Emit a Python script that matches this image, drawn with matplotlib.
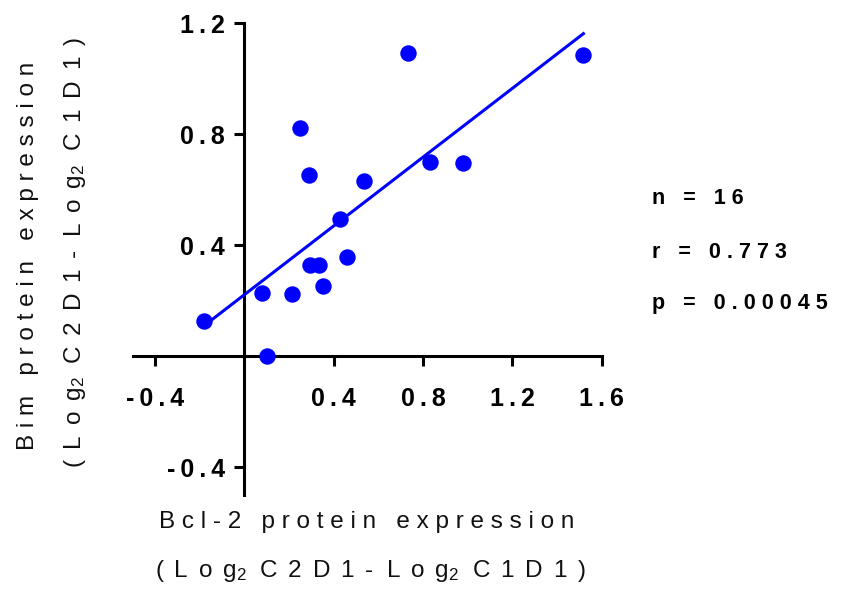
import numpy as np
import matplotlib
matplotlib.use("Agg")
import matplotlib.pyplot as plt

plt.rcParams['font.family'] = ['Liberation Sans', 'DejaVu Sans']
plt.rcParams['mathtext.fontset'] = 'custom'
plt.rcParams['mathtext.rm'] = 'Liberation Sans'
plt.rcParams['mathtext.it'] = 'Liberation Sans'

# data
bcl2 = [-0.182, 0.103, 0.079, 0.213, 0.248, 0.290, 0.296, 0.333,
        0.352, 0.427, 0.461, 0.536, 0.732, 0.833, 0.978, 1.519]
bim = [0.126, 0.000, 0.228, 0.226, 0.822, 0.652, 0.330, 0.330,
       0.253, 0.493, 0.356, 0.632, 1.091, 0.701, 0.695, 1.084]
xticks = [-0.4, 0.4, 0.8, 1.2, 1.6]
yticks = [-0.4, 0.4, 0.8, 1.2]
stats = ['n = 16', 'r = 0.773', 'p = 0.00045']

THIN = '\u2009'
HAIR = '\u200a'


def spaced(s, sep=' '):
    return sep.join(s)


fig = plt.figure(figsize=(8.46, 5.89), dpi=100)
ax = fig.add_axes([0.157, 0.1596, 0.554, 0.801])

ax.scatter(bcl2, bim, s=140, color='#0000FF', zorder=5, clip_on=False, linewidths=0)
slope, icpt = np.polyfit(bcl2, bim, 1)
xl = np.array([min(bcl2), max(bcl2)])
ax.plot(xl, slope * xl + icpt, color='#0000FF', lw=2.2, zorder=4, clip_on=False)

ax.set_xlim(-0.5, 1.6)
ax.set_ylim(-0.5, 1.2)
for side in ['top', 'right']:
    ax.spines[side].set_visible(False)
ax.spines['left'].set_position(('data', 0))
ax.spines['bottom'].set_position(('data', 0))
for side in ['left', 'bottom']:
    ax.spines[side].set_linewidth(2.2)
ax.spines['left'].set_bounds(-0.5, 1.2)
ax.spines['bottom'].set_bounds(-0.5, 1.6)

ax.set_xticks(xticks)
ax.set_xticklabels([spaced(f'{t:.1f}', THIN) for t in xticks], fontweight='bold', fontsize=18)
ax.set_yticks(yticks)
ax.set_yticklabels([spaced(f'{t:.1f}', THIN) for t in yticks], fontweight='bold', fontsize=18)
ax.tick_params(axis='x', length=7, width=2.2, pad=15)
ax.tick_params(axis='y', length=7, width=2.2, pad=7)

# axis labels
sep2 = ' ' + HAIR + HAIR
lab2 = (sep2.join('(Log') + '$_2$  ' + sep2.join('C2D1-') + '  '
        + sep2.join('Log') + '$_2$  ' + sep2.join('C1D1)'))
fig.text(367 / 846, 1 - 522 / 589, spaced('Bcl-2 protein expression'),
         ha='center', va='center', fontsize=17.5, color='#111111')
fig.text(370 / 846, 1 - 571 / 589, lab2,
         ha='center', va='center', fontsize=17.5, color='#111111')
fig.text(28 / 846, 1 - 256 / 589, spaced('Bim protein expression'),
         ha='center', va='center', fontsize=17.5, color='#111111', rotation=90)
fig.text(75 / 846, 1 - 253 / 589, lab2,
         ha='center', va='center', fontsize=17.5, color='#111111', rotation=90)

ys = [199, 253, 303]
for s, yy in zip(stats, ys):
    fig.text(652 / 846, 1 - yy / 589, spaced(s),
             ha='left', va='center', fontsize=15.5, fontweight='bold')

plt.savefig('out.png', dpi=100)
